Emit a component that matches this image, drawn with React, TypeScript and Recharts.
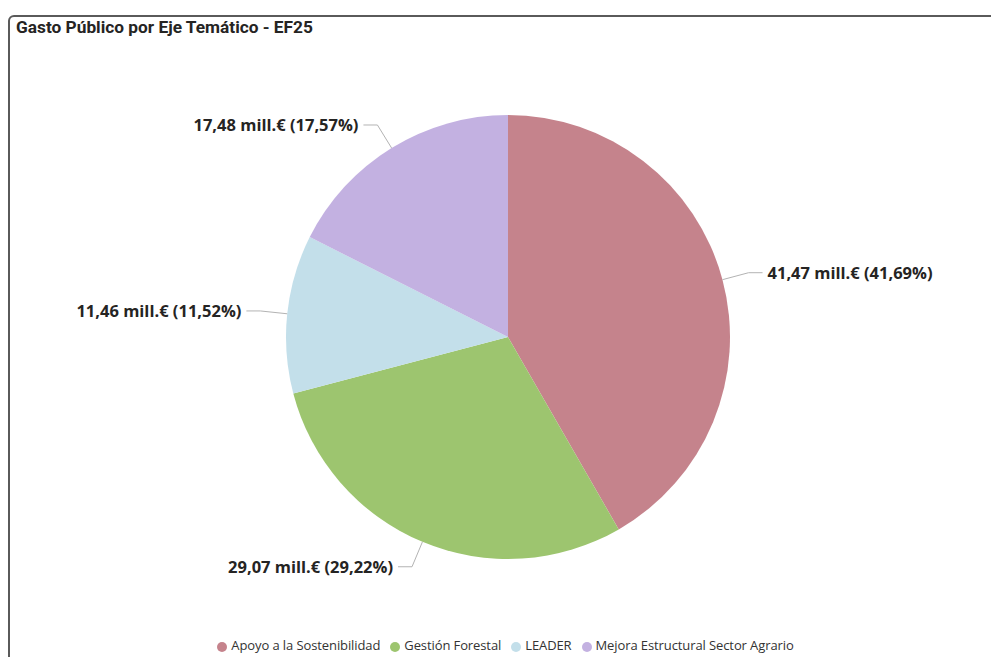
import { PieChart, Pie, Cell, Legend } from 'recharts'

const ejes = ['Apoyo a la Sostenibilidad', 'Gestión Forestal', 'LEADER', 'Mejora Estructural Sector Agrario']
const gasto = [41.47, 29.07, 11.46, 17.48]
const colores = ['#C5838C', '#9DC56F', '#C3DFEA', '#C3B1E1']

const data = ejes.map((name, i) => ({ name, value: gasto[i] }))

const RAD = Math.PI / 180
const fmt = (n: number) => n.toFixed(2).replace('.', ',')

function renderLabel(props: any) {
  const { cx, cy, midAngle, outerRadius, value, percent } = props
  const cos = Math.cos(-midAngle * RAD)
  const sin = Math.sin(-midAngle * RAD)
  const sx = cx + outerRadius * cos
  const sy = cy + outerRadius * sin
  const mx = cx + (outerRadius + 27) * cos
  const my = cy + (outerRadius + 27) * sin
  const dir = cos >= 0 ? 1 : -1
  const ex = mx + dir * 14
  return (
    <g>
      <path d={`M${sx},${sy}L${mx},${my}L${ex},${my}`} stroke="#B3B3B3" fill="none" strokeWidth={1} />
      <text
        x={ex + dir * 5}
        y={my}
        textAnchor={dir > 0 ? 'start' : 'end'}
        dominantBaseline="central"
        fill="#252423"
        fontSize={16.5}
        fontWeight={700}
        fontFamily="'Open Sans', sans-serif"
      >
        {`${fmt(value)} mill.€ (${fmt(percent * 100)}%)`}
      </text>
    </g>
  )
}

export default function App() {
  return (
    <div style={{ position: 'absolute', left: 0, top: 0, width: 991, height: 657, overflow: 'hidden', background: '#fff' }}>
      <div
        style={{
          position: 'absolute',
          left: 8,
          top: 15,
          width: 1000,
          height: 700,
          border: '2px solid #5a5a5a',
          borderRadius: 6,
          boxSizing: 'border-box',
        }}
      />
      <div
        style={{
          position: 'absolute',
          left: 16,
          top: 17,
          fontFamily: "Roboto, sans-serif",
          fontWeight: 700,
          fontSize: 17.3,
          color: '#252423',
          whiteSpace: 'nowrap',
        }}
      >
        Gasto Público por Eje Temático - EF25
      </div>
      <div style={{ position: 'absolute', left: 0, top: 0 }}>
        <PieChart width={991} height={657}>
          <Pie
            data={data}
            dataKey="value"
            nameKey="name"
            cx={503}
            cy={332}
            outerRadius={222}
            startAngle={90}
            endAngle={-270}
            stroke="none"
            label={renderLabel}
            labelLine={false}
            isAnimationActive={false}
          >
            {data.map((d, i) => (
              <Cell key={d.name} fill={colores[i]} />
            ))}
          </Pie>
          <Legend
            iconType="circle"
            iconSize={10}
            layout="horizontal"
            align="center"
            verticalAlign="bottom"
            wrapperStyle={{
              top: 636,
              left: 15,
              width: 991,
              fontFamily: "'Open Sans', sans-serif",
              fontSize: 13,
              letterSpacing: -0.1,
            }}
            formatter={(v: string) => <span style={{ color: '#333' }}>{v}</span>}
          />
        </PieChart>
      </div>
    </div>
  )
}
